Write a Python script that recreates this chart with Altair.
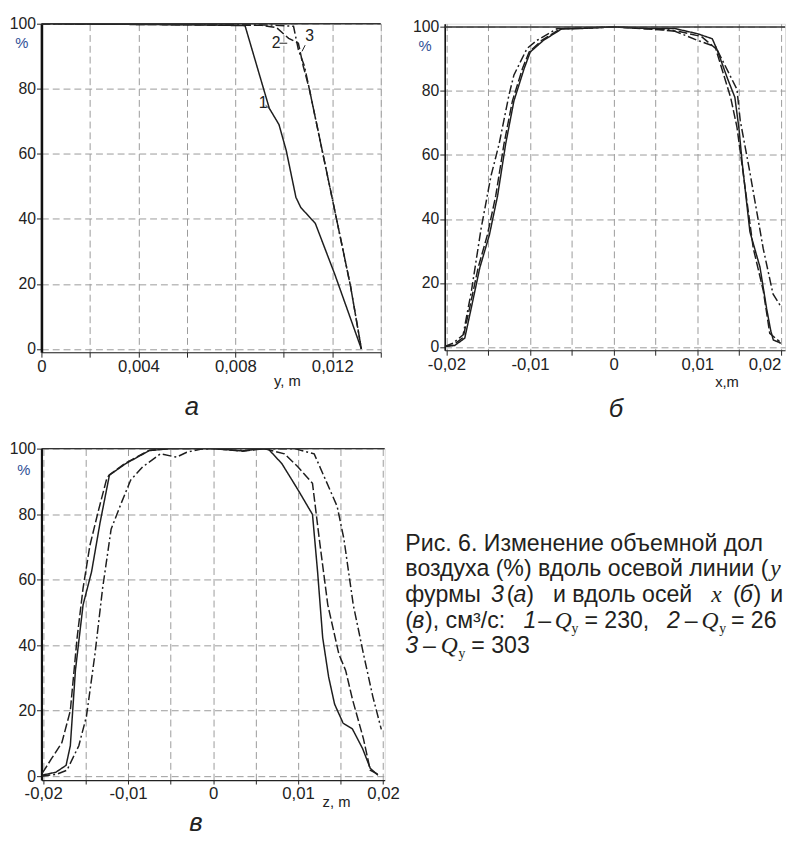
import altair as alt
import pandas as pd

# ---------------- data ----------------
# panel а : along axis y
a1_x = [0, 0.007, 0.0084, 0.0094, 0.0098, 0.0101, 0.0105, 0.0107, 0.0113, 0.0121, 0.0132]
a1_y = [100, 99.6, 99.4, 74, 69, 61, 46.6, 43.5, 38.6, 23, 0]
a2_x = [0, 0.0075, 0.0091, 0.0097, 0.0102, 0.0106, 0.0108, 0.01105, 0.0121, 0.01275, 0.0132]
a2_y = [100, 99.6, 99.5, 98.8, 95.5, 94, 87, 80, 42.6, 19.4, 0]
a3_x = [0, 0.0075, 0.0095, 0.0104, 0.0106, 0.01085, 0.01105, 0.0121, 0.01275, 0.0132]
a3_y = [100, 99.7, 99.6, 99.2, 92, 87, 80, 42.6, 19.4, 0]

# panel б : along axis x
b1_x = [-0.0202, -0.019, -0.0178, -0.017, -0.016, -0.01486, -0.01388, -0.0129, -0.01192, -0.0107,
        -0.00996, -0.00839, -0.0062, -0.004, 0, 0.004, 0.0073, 0.01, 0.0118, 0.0124, 0.0136,
        0.0145, 0.0150, 0.0154, 0.0163, 0.0175, 0.0183, 0.0188, 0.0191, 0.0200]
b1_y = [0.2, 0.5, 2.8, 12.5, 24.8, 35, 47.2, 63.6, 76.9, 87, 92.2, 95.8, 99.4, 99.5, 100, 99.5,
        99.5, 97.9, 96.3, 92.7, 84, 78, 68, 57, 36, 25, 12, 5, 2.2, 1.2]
b2_x = [-0.0202, -0.0192, -0.018, -0.0172, -0.0162, -0.0151, -0.0141, -0.0131, -0.0121, -0.0109,
        -0.0101, -0.0086, -0.0064, -0.005, 0, 0.006, 0.008, 0.0105, 0.0122, 0.0140, 0.01475,
        0.0167, 0.0179, 0.01867, 0.01985]
b2_y = [0.2, 0.6, 3, 12.5, 24.8, 35, 47.2, 63.6, 76.9, 87, 92.2, 95.8, 99.4, 99.5, 100, 99,
        98.5, 97, 93.3, 77.9, 68.7, 30.9, 17.6, 4.3, 1.7]
b3_x = [-0.0202, -0.0192, -0.018, -0.017, -0.01585, -0.01467, -0.01368, -0.0125, -0.01192,
        -0.01035, -0.00918, -0.0068, -0.004, 0, 0.004, 0.007, 0.01004, 0.0122, 0.01475, 0.01514,
        0.01631, 0.01788, 0.01906, 0.02004]
b3_y = [0.2, 1.2, 3.8, 17.6, 37, 53.4, 63.6, 78.9, 85, 93.3, 95.8, 99.4, 99.6, 100, 99.5, 99,
        95.8, 93.8, 80.5, 70.8, 54.4, 30.9, 16.6, 12.5]

# panel в : along axis z
c1_x = [-0.0201, -0.0185, -0.0173, -0.0168, -0.0162, -0.0153, -0.0143, -0.0133, -0.0122, -0.0103,
        -0.0075, -0.005, 0, 0.0035, 0.0057, 0.0065, 0.0081, 0.01, 0.0117, 0.0123, 0.0129, 0.0136,
        0.0143, 0.0153, 0.0164, 0.0176, 0.0185, 0.0194]
c1_y = [0.3, 1.2, 3.3, 9.3, 32.3, 52.3, 62.4, 77.4, 91.9, 95.4, 99.4, 100, 100, 99.3, 100, 99.9,
        95.4, 87.4, 79.9, 62.4, 42.3, 30.3, 22, 16.2, 14.4, 8.4, 2.4, 0.3]
c2_x = [-0.0201, -0.019, -0.0178, -0.0168, -0.016, -0.0153, -0.0145, -0.0135, -0.0125, -0.0122,
        -0.0103, -0.0075, -0.005, 0, 0.0035, 0.006, 0.0084, 0.01, 0.0117, 0.0125, 0.0135, 0.0148,
        0.0156, 0.0164, 0.0177, 0.0185, 0.0196]
c2_y = [0.9, 5.4, 10.2, 20, 42.3, 57.4, 70.4, 81, 91, 92, 95.6, 99.5, 100, 100, 99.2, 100, 98.4,
        94.4, 89.4, 72.4, 52.3, 37.3, 32.3, 23.5, 11.4, 1.8, 0.3]
c3_x = [-0.0202, -0.0184, -0.0172, -0.0158, -0.0149, -0.0139, -0.0130, -0.0120, -0.0108, -0.0097,
        -0.0083, -0.0062, -0.0043, -0.0031, -0.0015, 0, 0.0057, 0.0096, 0.0119, 0.0146, 0.0154,
        0.0165, 0.0177, 0.0188, 0.0198]
c3_y = [0, 0.6, 1.8, 9.3, 18.3, 37.3, 57.4, 75.4, 83.4, 90.4, 94.4, 98.4, 97.4, 98.9, 99.8, 100,
        99.9, 100, 98.4, 82.4, 72.4, 52.3, 37.3, 24.3, 14.3]

y_ticks = [0, 20, 40, 60, 80, 100]
a_ticks = [0, 0.002, 0.004, 0.006, 0.008, 0.01, 0.012, 0.014]
bc_ticks = [-0.02, -0.015, -0.01, -0.005, 0, 0.005, 0.01, 0.015, 0.02]

# curve numbers in panel а
ann_lbl = ["1", "2", "3"]
ann_x = [0.00915, 0.00968, 0.01106]
ann_y = [75.5, 94.0, 96.2]
lead_x = [0.00925, 0.00982, 0.01088]
lead_y = [74.9, 94.0, 93.4]
lead_x2 = [0.00945, 0.01014, 0.01075]
lead_y2 = [73.6, 94.0, 91.5]

# ---------------- styling ----------------
NARROW = "'Liberation Sans Narrow', 'Arial Narrow', 'Liberation Sans', sans-serif"
SANS = "'Liberation Sans', Arial, sans-serif"
SERIF = "'Liberation Serif', 'DejaVu Serif', serif"
INK = "#1e1e1e"
DASHES = [[1, 0], [9, 3], [9, 3, 2, 3]]


def series_df(xs_list, ys_list):
    rows = []
    for k, (xs, ys) in enumerate(zip(xs_list, ys_list), start=1):
        for x, y in zip(xs, ys):
            rows.append({"x": x, "y": y, "s": str(k)})
    return pd.DataFrame(rows)


def txt(text, px, py, size=17, font=NARROW, style="normal", color="#222", align="center"):
    return alt.Chart(pd.DataFrame({"t": [text]})).mark_text(
        font=font, fontSize=size, fontStyle=style, color=color, align=align,
        baseline="alphabetic").encode(text="t:N", x=alt.value(px), y=alt.value(py))


def panel(df, xdom, ydom, w, h, xticks, labexpr, labalign, ypad, xtick, xlabpad, ydw,
          xtitle, xt_pos, letter, letter_pos, pct_pos, extra_fn=None, extra_txt=()):
    xaxis = alt.Axis(values=xticks, labelExpr=labexpr, labelAlign=labalign, labelOverlap=False,
                     labelFont=NARROW, labelFontSize=17, labelColor="#222",
                     labelPadding=xlabpad, tickSize=xtick, tickColor="#222",
                     domainColor="#222", domainWidth=1.2, grid=True, gridColor="#9a9a9a",
                     gridDash=[7, 4], gridWidth=1, title=None)
    yaxis = alt.Axis(values=y_ticks, labelFont=NARROW, labelFontSize=16, labelColor="#222",
                     labelPadding=ypad, tickSize=5, tickColor="#222", domainColor="#111",
                     domainWidth=ydw, grid=True, gridColor="#9a9a9a", gridDash=[7, 4],
                     gridWidth=1, minExtent=32, maxExtent=32, title=None)
    xs = alt.Scale(domain=xdom, nice=False, zero=False)
    ys = alt.Scale(domain=ydom, nice=False, zero=False)
    X = lambda f: alt.X(f, scale=xs, axis=xaxis)
    Y = lambda f: alt.Y(f, scale=ys, axis=yaxis)
    lines = alt.Chart(df).mark_line(color=INK, strokeWidth=1.5, clip=True).encode(
        x=X("x:Q"), y=Y("y:Q"),
        strokeDash=alt.StrokeDash("s:N", scale=alt.Scale(domain=["1", "2", "3"], range=DASHES),
                                  legend=None),
        detail="s:N")
    top = alt.Chart(pd.DataFrame({"y": [100]})).mark_rule(color="#333", strokeWidth=1.5).encode(
        y=Y("y:Q"))
    layers = [lines, top]
    if extra_fn is not None:
        layers += extra_fn(X, Y)
    layers += list(extra_txt)
    layers.append(txt(xtitle, xt_pos[0], xt_pos[1], size=15))
    layers.append(txt("%", pct_pos[0], pct_pos[1], size=15, font=SANS, color="#2f4f96"))
    layers.append(txt(letter, letter_pos[0], letter_pos[1], size=26, font=SANS, style="italic"))
    return alt.layer(*layers).properties(width=w, height=h)


lab_a = ("datum.value == 0 ? '0' : (round(datum.value*1000) % 4 == 0 ? "
         "replace(format(datum.value, '.3f'), '.', ',') : '')")
lab_bc = ("abs(datum.value) < 1e-9 ? '0' : (round(datum.value*1000) % 10 == 0 ? "
          "(datum.value < 0 ? '-' : '') + replace(format(abs(datum.value), '.2f'), '.', ',') : '')")


def annotations(X, Y):
    ann_df = pd.DataFrame({"t": ann_lbl, "x": ann_x, "y": ann_y})
    lead_df = pd.DataFrame({"x": lead_x, "y": lead_y, "x2": lead_x2, "y2": lead_y2})
    t = alt.Chart(ann_df).mark_text(font=NARROW, fontSize=16, color="#222",
                                    baseline="middle").encode(text="t:N", x=X("x:Q"), y=Y("y:Q"))
    r = alt.Chart(lead_df).mark_rule(color="#222", strokeWidth=1).encode(
        x=X("x:Q"), x2="x2:Q", y=Y("y:Q"), y2="y2:Q")
    return [r, t]


pa = panel(series_df([a1_x, a2_x, a3_x], [a1_y, a2_y, a3_y]), [0, 0.014], [-1, 100], 345, 334,
           a_ticks, lab_a, "center", 1, 5, 2, 2.6, "y, m", (250, 368), "а", (153, 398), (-20, 25),
           extra_fn=annotations)

pb = panel(series_df([b1_x, b2_x, b3_x], [b1_y, b2_y, b3_y]), [-0.0202, 0.0205], [-1, 101], 346, 332,
           bc_ticks, lab_bc,
           {"condition": {"test": "datum.value > 0.015", "value": "right"}, "value": "center"},
           1, 5, 2, 1.6, "x,m", (287, 369), "б", (174, 400), (-20, 28))

# caption (placed beside panel в)
CX0, CY0 = 40, 448
cap_seg = [
    # (baseline, x, text, style)
    (552, 410, "Рис. 6. Изменение объемной дол", "n"),
    (578, 410, "воздуха (%) вдоль осевой линии (", "n"),
    (578, 781, "y", "s"),
    (604, 410, "фурмы", "n"), (604, 497, "3", "i"), (604, 513, "(", "n"), (604, 520, "а", "i"),
    (604, 533, ")", "n"), (604, 560, "и вдоль осей", "n"), (604, 721, "x", "s"),
    (604, 743, "(", "n"), (604, 750, "б", "i"), (604, 764, ")", "n"), (604, 781, "и", "n"),
    (630, 410, "(", "n"), (630, 417, "в", "i"), (630, 430, "), см³/с:", "n"), (630, 530, "1", "i"),
    (630, 545, "–", "n"), (630, 562, "Q", "s"), (635, 579, "у", "u"), (630, 592, "= 230,", "n"),
    (630, 676, "2", "i"), (630, 694, "–", "n"), (630, 711, "Q", "s"), (635, 729, "у", "u"),
    (630, 741, "= 26", "n"),
    (656, 410, "3", "i"), (656, 428, "–", "n"), (656, 446, "Q", "s"), (661, 464, "у", "u"),
    (656, 477, "= 303", "n"),
]
styles = {"n": (SANS, "normal", 23.5), "i": (SANS, "italic", 23.5), "s": (SERIF, "italic", 24),
          "u": (SERIF, "normal", 14)}
cap_layers = []
for (by, bx, text, key) in cap_seg:
    font, fstyle, size = styles[key]
    cap_layers.append(txt(text, bx - CX0, by - CY0, size=size, font=font, style=fstyle,
                          color="#231f20", align="left"))

pc = panel(series_df([c1_x, c2_x, c3_x], [c1_y, c2_y, c3_y]), [-0.0202, 0.0202], [-1.2, 100], 349, 337,
           bc_ticks, lab_bc, "center", 1, 4, 2, 2.2, "z, m", (300, 364), "в", (157, 389), (-18, 27),
           extra_txt=cap_layers)

chart = alt.concat(pa, pb, pc, columns=2, spacing={"row": 98, "column": 61},
                   bounds="flush").properties(
    padding={"left": 0, "top": 0, "right": 0, "bottom": 0}
).configure_view(stroke=None).configure(background="white")

chart.save("out.html", embed_options={"renderer": "svg", "actions": False})
